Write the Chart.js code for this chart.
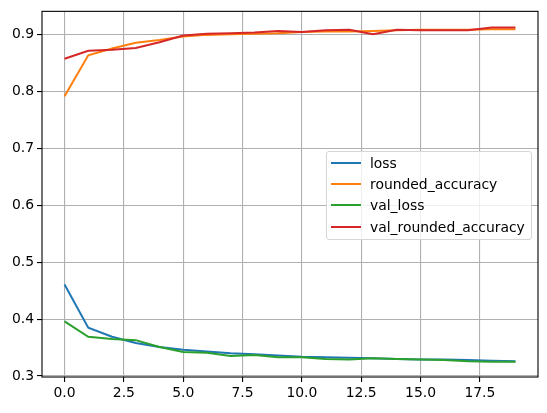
<!DOCTYPE html>
<html>
<head>
<meta charset="utf-8">
<script src="https://cdn.jsdelivr.net/npm/chart.js@4.4.1/dist/chart.umd.min.js"></script>
<style>
  html, body { margin: 0; padding: 0; background: #fff; }
  #wrap { position: relative; width: 547px; height: 413px; }
  #legend {
    position: absolute; left: 326px; top: 151px; width: 204px; height: 87px;
    background: rgba(255,255,255,0.8); border: 1px solid #d6d6d6; border-radius: 3px;
    font-family: "DejaVu Sans", sans-serif; font-size: 13.9px; color: #000;
  }
  .item { position: absolute; left: 0; height: 20px; line-height: 20px; white-space: nowrap; }
  .item span.sw { position: absolute; left: 4px; top: 9px; width: 30px; height: 2px; }
  .item span.tx { position: absolute; left: 43px; top: 0; }
</style>
</head>
<body>
<div id="wrap">
  <canvas id="chart" width="547" height="413"></canvas>
  <div id="legend"></div>
</div>
<script>
var epochs = [0, 1, 2, 3, 4, 5, 6, 7, 8, 9, 10, 11, 12, 13, 14, 15, 16, 17, 18, 19];
var loss = [0.461, 0.385, 0.369, 0.358, 0.351, 0.346, 0.343, 0.340, 0.338, 0.336, 0.334, 0.333, 0.332, 0.331, 0.330, 0.329, 0.329, 0.328, 0.327, 0.326];
var roundedAccuracy = [0.792, 0.864, 0.876, 0.886, 0.891, 0.897, 0.900, 0.901, 0.902, 0.903, 0.905, 0.906, 0.906, 0.907, 0.908, 0.909, 0.909, 0.909, 0.910, 0.910];
var valLoss = [0.396, 0.369, 0.365, 0.363, 0.351, 0.342, 0.341, 0.335, 0.337, 0.333, 0.333, 0.330, 0.329, 0.331, 0.330, 0.329, 0.328, 0.326, 0.325, 0.325];
var valRoundedAccuracy = [0.858, 0.872, 0.874, 0.877, 0.887, 0.899, 0.902, 0.903, 0.904, 0.907, 0.905, 0.908, 0.909, 0.901, 0.909, 0.908, 0.908, 0.908, 0.913, 0.913];
var xTicks = [0, 2.5, 5, 7.5, 10, 12.5, 15, 17.5];
var yTicks = [0.3, 0.4, 0.5, 0.6, 0.7, 0.8, 0.9];

function pts(arr) {
  return arr.map(function (v, i) { return { x: epochs[i], y: v }; });
}

var series = [
  { label: 'loss', data: loss, color: '#1f77b4', order: 4 },
  { label: 'rounded_accuracy', data: roundedAccuracy, color: '#ff7f0e', order: 3 },
  { label: 'val_loss', data: valLoss, color: '#2ca02c', order: 2 },
  { label: 'val_rounded_accuracy', data: valRoundedAccuracy, color: '#d62728', order: 1 }
];

// html legend, matplotlib style
var legend = document.getElementById('legend');
series.forEach(function (s, i) {
  legend.innerHTML += '<div class="item" style="top:' + (1 + i * 21.2) + 'px"><span class="sw" style="background:' + s.color + '"></span><span class="tx">' + s.label + '</span></div>';
});

var frame = {
  id: 'frame',
  afterDraw: function (chart) {
    var a = chart.chartArea, ctx = chart.ctx;
    ctx.save();
    ctx.strokeStyle = '#000';
    ctx.lineWidth = 1.1;
    ctx.strokeRect(a.left, a.top, a.right - a.left, a.bottom - a.top);
    ctx.restore();
  }
};

var grid = { color: '#b0b0b0', lineWidth: 1.1, tickLength: 5, tickColor: '#000', drawTicks: true };
var tickFont = { family: 'DejaVu Sans', size: 13.9 };

new Chart(document.getElementById('chart').getContext('2d'), {
  type: 'line',
  data: {
    datasets: series.map(function (s) {
      return { label: s.label, data: pts(s.data), borderColor: s.color, backgroundColor: s.color, borderWidth: 2, pointRadius: 0, tension: 0, fill: false, order: s.order };
    })
  },
  options: {
    responsive: false,
    animation: false,
    layout: { padding: { top: 11, right: 9, left: 0, bottom: 0 } },
    plugins: { legend: { display: false }, tooltip: { enabled: false } },
    scales: {
      x: {
        type: 'linear', min: -0.95, max: 19.95,
        grid: grid, border: { display: false },
        ticks: { color: '#000', font: tickFont, padding: 3, maxRotation: 0, autoSkip: false, callback: function (v) { return v.toFixed(1); } },
        afterBuildTicks: function (s) { s.ticks = xTicks.map(function (v) { return { value: v }; }); },
        afterFit: function (s) { s.height = 36; }
      },
      y: {
        min: 0.2982, max: 0.9414,
        grid: grid, border: { display: false },
        ticks: { color: '#000', font: tickFont, padding: 3, autoSkip: false, callback: function (v) { return v.toFixed(1); } },
        afterBuildTicks: function (s) { s.ticks = yTicks.map(function (v) { return { value: v }; }); },
        afterFit: function (s) { s.width = 42; }
      }
    }
  },
  plugins: [frame]
});
</script>
</body>
</html>
